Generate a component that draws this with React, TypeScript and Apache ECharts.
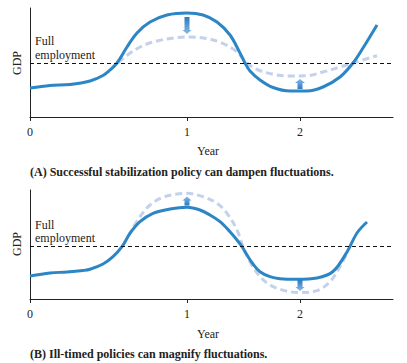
import React, { useEffect, useRef } from "react";
import * as echarts from "echarts";

// Axis positions (arbitrary time units along the axis) and their year labels
const tickPositions = [0, 157, 270];
const tickLabels = ["0", "1", "2"];
const xMax = 363;
const yMax = 109;

const fullEmploymentA = 54;
const fullEmploymentB = 53;

// Panel A: actual GDP with successful policy (solid) and without (dashed)
const panelASolid: number[][] = [
  [0, 29], [20, 31.5], [40, 32.5], [60, 36], [73, 41.5], [80, 47], [87, 54],
  [97, 70], [107, 84], [120, 95], [137, 102], [157, 104], [173, 102], [187, 95],
  [200, 82], [210, 64], [215, 54], [220, 46], [230, 37], [243, 29.5], [260, 26],
  [277, 26], [293, 30], [310, 40], [323, 54], [333, 69], [347, 92],
];
const panelADashed: number[][] = [
  [80, 47], [93, 58.5], [110, 70], [127, 76], [147, 79.5], [160, 80], [177, 78.5],
  [193, 73.5], [207, 65], [217, 54], [227, 47.5], [243, 42.7], [260, 41],
  [277, 41.3], [293, 45], [310, 50], [327, 55.3], [347, 61.3],
];

// Panel B: ill-timed policy (solid) vs. original path (dashed)
const panelBSolid: number[][] = [
  [0, 23], [20, 26], [37, 27], [53, 28.5], [60, 29.7], [73, 35], [83, 42.3],
  [92, 52.3], [100, 65.7], [110, 77.3], [123, 85.7], [140, 90], [157, 91.7],
  [170, 89], [180, 84], [190, 77.3], [200, 67.3], [207, 59], [212, 52.3],
  [217, 44], [223, 35], [230, 27.3], [240, 22.3], [250, 20.3], [267, 19.7],
  [287, 21], [303, 27.5], [317, 47], [327, 66], [337, 77],
];
const panelBDashed: number[][] = [
  [98, 63], [110, 82.3], [120, 94], [133, 101.7], [147, 105], [157, 105.7],
  [173, 102.3], [187, 95.7], [197, 85.7], [207, 69], [213, 52.3], [220, 37.3],
  [230, 22.3], [240, 14], [250, 9.7], [260, 7.3], [270, 6.5], [287, 8.3],
  [300, 17.3], [310, 32.3], [317, 46],
];

// Arrows: position (axis units) and direction
const panelAArrows = [
  { x: 157, y: 91.5, dir: "down", w: 9, h: 17 },
  { x: 270, y: 33, dir: "up", w: 10, h: 10 },
];
const panelBArrows = [
  { x: 157, y: 98, dir: "up", w: 9, h: 9 },
  { x: 270, y: 13.5, dir: "down", w: 9, h: 11 },
];

const captionA = "(A) Successful stabilization policy can dampen fluctuations.";
const captionB = "(B) Ill-timed policies can magnify fluctuations.";

const SERIF = "Liberation Serif, Times New Roman, serif";
const SOLID = "#2c86c6";
const DASHED = "#c3d1ea";

function arrowPath(dir: string, w: number, h: number) {
  const head = 4;
  const s0 = (w - 5) / 2;
  const s1 = s0 + 5;
  if (dir === "down") {
    return `path://M${s0},0 L${s1},0 L${s1},${h - head} L${w},${h - head} L${w / 2},${h} L0,${h - head} L${s0},${h - head} Z`;
  }
  return `path://M${w / 2},0 L${w},${head} L${s1},${head} L${s1},${h} L${s0},${h} L${s0},${head} L0,${head} Z`;
}

function arrowMarks(arrows: any[]) {
  return arrows.map((a) => ({
    coord: [a.x, a.y],
    symbol: arrowPath(a.dir, a.w, a.h),
    symbolSize: [a.w, a.h],
    symbolKeepAspect: false,
    itemStyle: {
      color: new echarts.graphic.LinearGradient(0, 0, 0, 1,
        a.dir === "down"
          ? [{ offset: 0, color: "#2a7bc0" }, { offset: 1, color: "#8ab8e6" }]
          : [{ offset: 0, color: "#8ab8e6" }, { offset: 1, color: "#2a7bc0" }]),
    },
    label: { show: false },
  }));
}

export default function App() {
  const ref = useRef<HTMLDivElement>(null);
  useEffect(() => {
    document.body.style.margin = "0";
    const chart = echarts.init(ref.current!, null, { renderer: "svg" });
    const grids = [
      { left: 30, top: 8, width: 363, height: 109 },
      { left: 30, top: 190, width: 363, height: 109 },
    ];
    const xAxis = [0, 1].map((i) => ({
      type: "value",
      gridIndex: i,
      min: 0,
      max: xMax,
      splitLine: { show: false },
      axisLine: { show: true, lineStyle: { color: "#222", width: 1 } },
      axisTick: { show: true, customValues: tickPositions, length: 4, inside: false, lineStyle: { color: "#222" } },
      axisLabel: {
        show: true,
        customValues: tickPositions,
        formatter: (v: number) => tickLabels[tickPositions.indexOf(v)] ?? "",
        fontFamily: SERIF,
        fontSize: 12,
        color: "#222",
        margin: 9,
      },
    }));
    const yAxis = [0, 1].map((i) => ({
      type: "value",
      gridIndex: i,
      min: 0,
      max: yMax,
      splitLine: { show: false },
      axisLine: { show: true, onZero: false, lineStyle: { color: "#222", width: 1 } },
      axisTick: { show: false },
      axisLabel: { show: false },
    }));
    const fe = (v: number) => ({
      silent: true,
      symbol: "none",
      label: { show: false },
      lineStyle: { color: "#111", type: [4, 3], width: 1 },
      data: [{ yAxis: v }],
    });
    const dashedSeries = (data: number[][], idx: number) => ({
      type: "line",
      xAxisIndex: idx,
      yAxisIndex: idx,
      data,
      smooth: 0.35,
      showSymbol: false,
      symbol: "none",
      lineStyle: { color: DASHED, width: 3, type: [7, 4] },
      z: 2,
    });
    const solidSeries = (data: number[][], idx: number, fev: number, arrows: any[]) => ({
      type: "line",
      xAxisIndex: idx,
      yAxisIndex: idx,
      data,
      smooth: 0.35,
      showSymbol: false,
      symbol: "none",
      lineStyle: { color: SOLID, width: 3 },
      z: 3,
      markLine: fe(fev),
      markPoint: { data: arrowMarks(arrows), silent: true },
    });
    const txt = (x: number, y: number, text: string, extra: any = {}) => ({
      type: "text",
      x,
      y,
      style: {
        text,
        fontFamily: SERIF,
        fontSize: 12,
        fill: "#222",
        textVerticalAlign: "middle",
        ...extra,
      },
    });
    chart.setOption({
      animation: false,
      grid: grids,
      xAxis,
      yAxis,
      series: [
        dashedSeries(panelADashed, 0),
        solidSeries(panelASolid, 0, fullEmploymentA, panelAArrows),
        dashedSeries(panelBDashed, 1),
        solidSeries(panelBSolid, 1, fullEmploymentB, panelBArrows),
      ],
      graphic: [
        txt(35, 41, "Full"),
        txt(35, 55, "employment"),
        txt(35, 225, "Full"),
        txt(35, 238, "employment"),
        { ...txt(17, 63, "GDP", { textAlign: "center" }), rotation: Math.PI / 2 },
        { ...txt(17, 244, "GDP", { textAlign: "center" }), rotation: Math.PI / 2 },
        txt(208, 151, "Year", { textAlign: "center" }),
        txt(208, 334, "Year", { textAlign: "center" }),
        txt(30, 172, captionA, { fontWeight: "bold" }),
        txt(30, 354, captionB, { fontWeight: "bold" }),
      ],
    });
    return () => chart.dispose();
  }, []);
  return <div ref={ref} style={{ width: 407, height: 363 }} />;
}
